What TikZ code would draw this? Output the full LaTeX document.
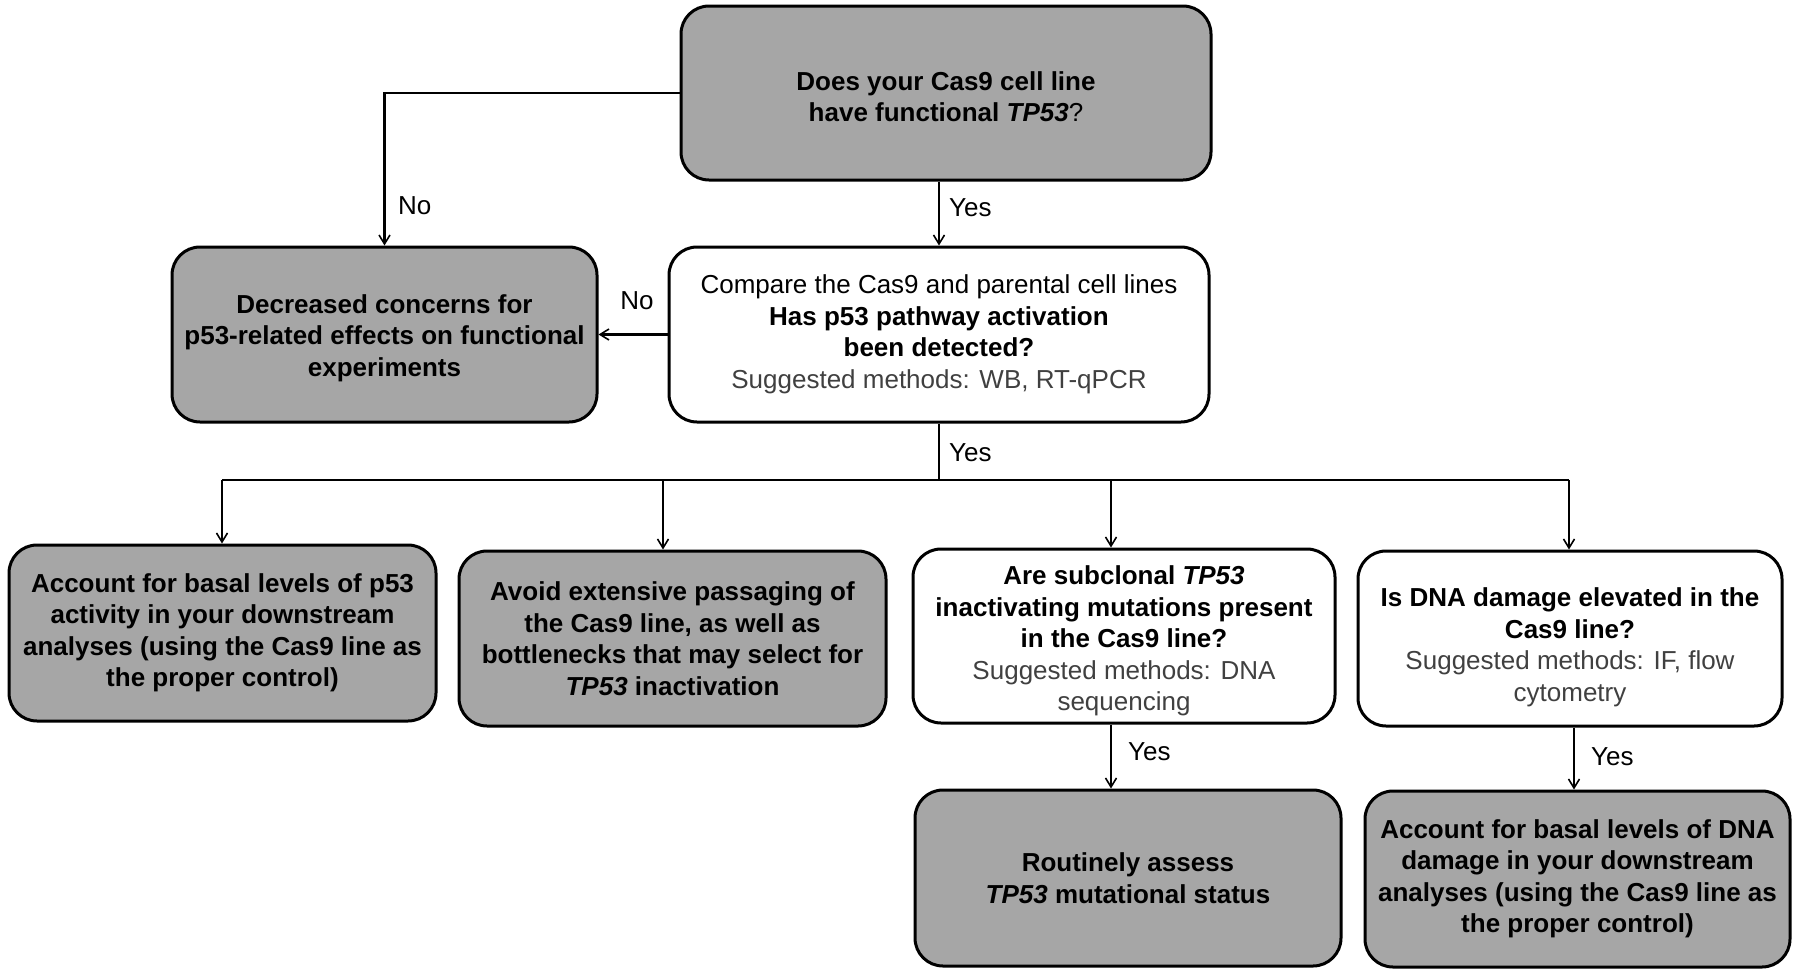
\documentclass[tikz,border=0pt]{standalone}
\usepackage{fontspec}
\setmainfont{Liberation Sans}
\usetikzlibrary{arrows.meta}
\definecolor{boxgray}{HTML}{A6A6A6}
\definecolor{subgray}{HTML}{404040}
\begin{document}
\begin{tikzpicture}[x=1pt,y=-1pt,
  box/.style={draw=black,line width=3pt,rounded corners=28pt,align=center,
    font=\fontsize{26}{31.5}\selectfont,inner sep=4pt},
  graybox/.style={box,fill=boxgray},
  whitebox/.style={box,fill=white},
  conn/.style={line width=2.2pt},
  arr/.style={conn,-{Straight Barb[length=9pt,width=11pt,line width=1.6pt]}},
  lbl/.style={font=\fontsize{26}{31.5}\selectfont,inner sep=0pt}]
\useasboundingbox (0,0) rectangle (1800,975);

\node[graybox,minimum width=530pt,minimum height=174pt] (top) at (946,93)
  {\rule{0pt}{26pt}\textbf{Does your Cas9 cell line}\\\textbf{have functional \textit{TP53}}?};
\node[graybox,minimum width=425pt,minimum height=175pt] (dec) at (384.5,334.5)
  {\rule{0pt}{26pt}\textbf{Decreased concerns for}\\\textbf{p53-related effects on functional}\\\textbf{experiments}};
\node[whitebox,minimum width=540pt,minimum height=175pt] (cmp) at (939,334.5)
  {Compare the Cas9 and parental cell lines\\\textbf{Has p53 pathway activation}\\\textbf{been detected?}\\\textcolor{subgray}{Suggested methods: WB, RT-qPCR}};
\node[graybox,minimum width=427pt,minimum height=176pt] (A) at (222.5,633)
  {\textbf{Account for basal levels of p53}\\\textbf{activity in your downstream}\\\textbf{analyses (using the Cas9 line as}\\\textbf{the proper control)}};
\node[graybox,minimum width=427pt,minimum height=175pt] (B) at (672.5,638.5)
  {\textbf{Avoid extensive passaging of}\\\textbf{the Cas9 line, as well as}\\\textbf{bottlenecks that may select for}\\\textbf{\textit{TP53} inactivation}};
\node[whitebox,minimum width=422pt,minimum height=174pt] (C) at (1124,636)
  {\rule{0pt}{29pt}\textbf{Are subclonal \textit{TP53}}\\\textbf{inactivating mutations present}\\\textbf{in the Cas9 line?}\\\textcolor{subgray}{Suggested methods: DNA}\\\textcolor{subgray}{sequencing}};
\node[whitebox,minimum width=424pt,minimum height=175pt] (D) at (1570,638.5)
  {\rule{0pt}{36pt}\textbf{Is DNA damage elevated in the}\\\textbf{Cas9 line?}\\\textcolor{subgray}{Suggested methods: IF, flow}\\\textcolor{subgray}{cytometry}};
\node[graybox,minimum width=426pt,minimum height=176pt] (E) at (1128,878)
  {\textbf{Routinely assess}\\\textbf{\textit{TP53} mutational status}};
\node[graybox,minimum width=425pt,minimum height=176pt] (F) at (1577.5,879)
  {\textbf{Account for basal levels of DNA}\\\textbf{damage in your downstream}\\\textbf{analyses (using the Cas9 line as}\\\textbf{the proper control)}};

% top -> No -> dec
\draw[arr] (top.west) -| (dec.north);
\node[lbl,anchor=west] (no1) at (398,206) {No};
% top -> Yes -> cmp
\draw[arr] (top.south -| cmp.north) -- (cmp.north);
\node[lbl,anchor=west] (yes1) at (949,208) {Yes};
% cmp -> No -> dec
\draw[arr] (cmp.west) -- (dec.east);
\node[lbl] (no2) at (637,301) {No};
% cmp -> Yes -> bar
\coordinate (bar) at (939,480);
\draw[conn] (cmp.south) -- (bar);
\node[lbl,anchor=west] (yes2) at (949,453) {Yes};
\coordinate (barL) at (222,480);
\coordinate (barR) at (1569,480);
\draw[conn] (barL) -- (barR);
\draw[arr] (barL) -- (barL |- A.north);
\draw[arr] (663,480) -- (B.north -| 663,0);
\draw[arr] (1111,480) -- (C.north -| 1111,0);
\draw[arr] (barR) -- (D.north -| barR);
% C -> E
\draw[arr] (C.south -| 1111,0) -- (E.north -| 1111,0);
\node[lbl,anchor=west] (yes3) at (1128,752) {Yes};
% D -> F
\draw[arr] (D.south -| 1574,0) -- (F.north -| 1574,0);
\node[lbl,anchor=west] (yes4) at (1591,757) {Yes};
\end{tikzpicture}
\end{document}
